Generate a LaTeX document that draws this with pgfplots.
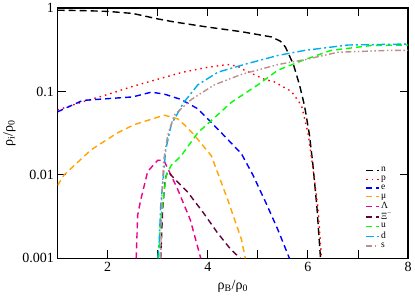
\documentclass[border=0pt]{standalone}
\usepackage{fontspec}
\setmainfont{Liberation Serif}
\usepackage{pgfplots}
\pgfplotsset{compat=1.18}
\definecolor{xipurple}{RGB}{100,0,60}
\definecolor{rosyb}{RGB}{188,143,143}
\definecolor{orng}{RGB}{255,165,0}
\begin{document}
\begin{tikzpicture}
\begin{axis}[
  scale only axis, width=350pt, height=250pt,
  xmin=1, xmax=8, ymin=0.001, ymax=1,
  ymode=log,
  xtick={1,2,...,8}, xticklabels={,2,,4,,6,,8},
  ytick={0.001,0.01,0.1,1}, yticklabels={0.001,0.01,0.1,1},
  log basis y=10,
  /pgf/number format/assume math mode=true,
  tick align=inside, xtick pos=both, ytick pos=both,
  major tick length=8pt, minor tick length=4.5pt,
  every tick/.style={black, line width=1pt},
  axis line style={line width=1.6pt},
  tick label style={font=\fontsize{14}{16}\selectfont},
  label style={font=\fontsize{14}{16}\selectfont},
  xlabel={ρ\textsubscript{B}/ρ\textsubscript{0}},
  ylabel={ρ\textsubscript{i}/ρ\textsubscript{0}},
  xlabel style={yshift=-2pt},
  ylabel style={yshift=0pt},
  legend style={draw=none, fill=none, font=\fontsize{9.5}{10}\selectfont,
    at={(0.87,0.02)}, anchor=south west, row sep=-1.2pt,
    legend cell align=left},
  legend image code/.code={\draw[#1] (0pt,0pt) -- (12pt,0pt);},
  every axis plot/.append style={line width=1.4pt},
  clip=true,
]
\addplot[black, dash pattern=on 7pt off 4pt] coordinates {
(1,0.94) (1.5,0.93) (2,0.91) (2.5,0.86) (3,0.74) (3.33,0.68) (4,0.59) (4.67,0.52)
(5.27,0.45) (5.45,0.40) (5.55,0.34) (5.71,0.21) (5.83,0.12) (5.93,0.068)
(6.03,0.03) (6.1,0.013) (6.18,0.004) (6.25,0.001)};
\addlegendentry{n}
\addplot[red, dash pattern=on 1.5pt off 4pt] coordinates {
(1,0.06) (1.5,0.075) (2,0.092) (2.5,0.115) (3,0.14) (3.5,0.17) (4,0.195) (4.4,0.21)
(4.6,0.2) (4.73,0.18) (5.13,0.14) (5.33,0.13) (5.67,0.1) (5.87,0.068) (6.0,0.032)
(6.1,0.012) (6.2,0.004) (6.27,0.001)};
\addlegendentry{p}
\addplot[blue, dash pattern=on 6pt off 4pt] coordinates {
(1,0.057) (1.5,0.078) (2,0.082) (2.5,0.086) (2.87,0.098) (3.13,0.093) (3.47,0.08)
(3.8,0.062) (4.27,0.032) (4.67,0.018) (4.9,0.01) (5.17,0.0045) (5.4,0.0022) (5.63,0.001)};
\addlegendentry{e}
\addplot[orng, dash pattern=on 6pt off 4pt] coordinates {
(1,0.0075) (1.13,0.01) (1.67,0.02) (2.2,0.032) (2.53,0.04) (3.13,0.052) (3.4,0.047)
(3.53,0.04) (3.73,0.03) (4.07,0.017) (4.4,0.005) (4.67,0.0017) (4.75,0.001)};
\addlegendentry{μ}
\addplot[magenta, dash pattern=on 6pt off 4pt] coordinates {
(2.57,0.001) (2.6,0.0033) (2.66,0.005) (2.8,0.011) (3.0,0.015) (3.12,0.015)
(3.2,0.012) (3.4,0.0067) (3.65,0.0029) (3.86,0.001)};
\addlegendentry{Λ}
\addplot[xipurple, dash pattern=on 6pt off 4pt] coordinates {
(3.06,0.001) (3.1,0.004) (3.15,0.009) (3.2,0.011) (3.4,0.0082) (3.6,0.0062)
(3.9,0.0036) (4.2,0.002) (4.45,0.0013) (4.65,0.001)};
\addlegendentry{Ξ\textsuperscript{−}}
\addplot[green, dash pattern=on 6pt off 4pt] coordinates {
(3.02,0.001) (3.05,0.0025) (3.1,0.0045) (3.17,0.01) (3.27,0.013) (3.47,0.017)
(3.8,0.032) (4.47,0.074) (5.0,0.12) (5.4,0.18) (5.93,0.24) (6.46,0.31) (7.26,0.355) (8.0,0.36)};
\addlegendentry{u}
\addplot[cyan, dash pattern=on 8pt off 3pt on 2pt off 3pt] coordinates {
(3.0,0.001) (3.03,0.0016) (3.06,0.0043) (3.16,0.02) (3.27,0.04) (3.52,0.074)
(3.8,0.12) (4.2,0.17) (4.72,0.21) (5.4,0.27) (5.93,0.31) (6.8,0.36) (8.0,0.37)};
\addlegendentry{d}
\addplot[rosyb, dash pattern=on 6pt off 2.5pt on 1.5pt off 2.5pt on 1.5pt off 2.5pt] coordinates {
(3.06,0.001) (3.08,0.005) (3.12,0.015) (3.2,0.03) (3.33,0.052) (3.67,0.08)
(4.13,0.12) (4.67,0.16) (5.4,0.21) (5.93,0.24) (6.6,0.295) (7.6,0.31) (8,0.31)};
\addlegendentry{s}
\end{axis}
\end{tikzpicture}
\end{document}
